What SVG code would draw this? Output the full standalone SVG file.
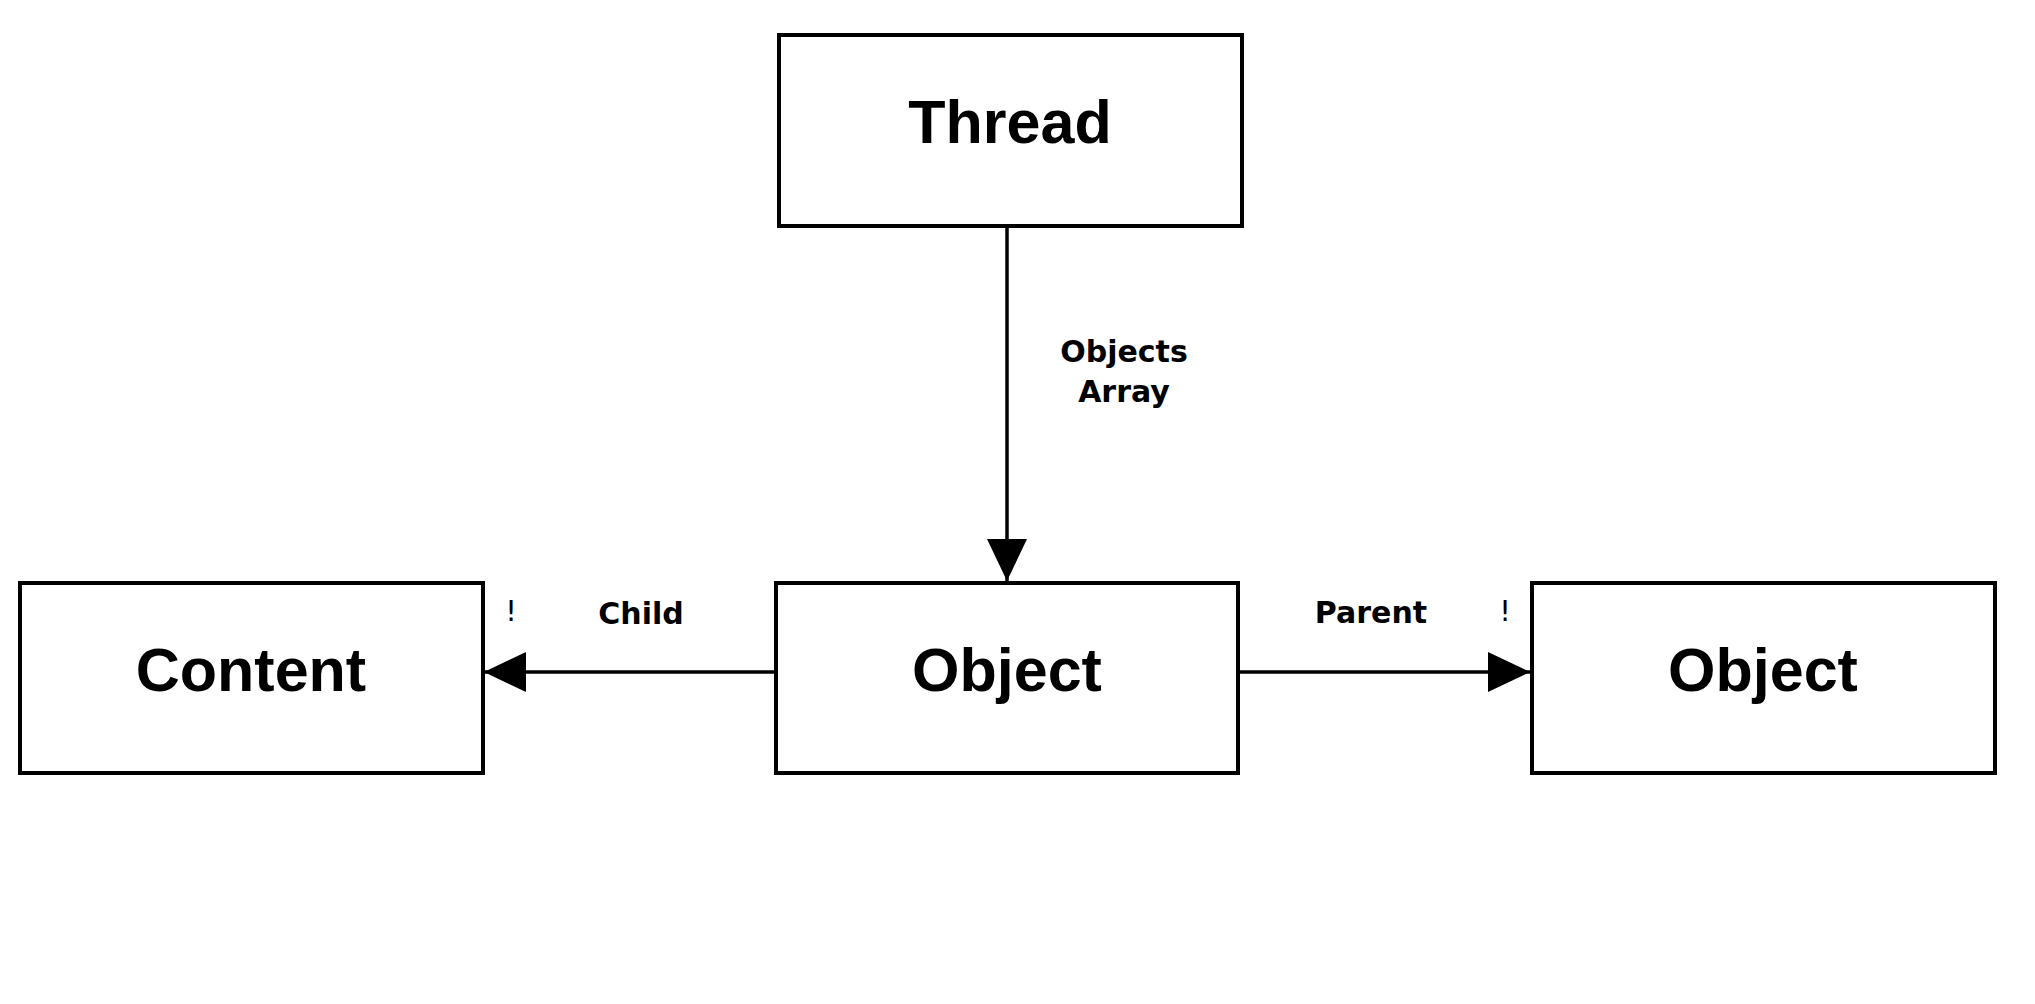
<svg xmlns="http://www.w3.org/2000/svg" width="2035" height="1004" viewBox="0 0 2035 1004">
<style>
.box{fill:#fff;stroke:#000;stroke-width:4}
.nt{font-family:"Liberation Sans",Arial,sans-serif;font-weight:bold;font-size:61px;fill:#000;text-anchor:middle}
.lb{font-family:"DejaVu Sans",Verdana,sans-serif;font-weight:bold;font-size:30px;fill:#000;text-anchor:middle}
.ex{font-family:"DejaVu Sans",Verdana,sans-serif;font-size:29px;fill:#000;text-anchor:middle}
.ln{stroke:#000;stroke-width:3.5;fill:none}
</style>
<defs>
<marker id="ah" markerWidth="42" markerHeight="40" refX="42" refY="20" orient="auto" markerUnits="userSpaceOnUse">
<path d="M0,0 L42,20 L0,40 Z" fill="#000"/>
</marker>
</defs>
<rect width="2035" height="1004" fill="#fff"/>
<g id="connectors">
<line class="ln" x1="1007" y1="227" x2="1007" y2="581" marker-end="url(#ah)"/>
<line class="ln" x1="775" y1="672" x2="484" y2="672" marker-end="url(#ah)"/>
<line class="ln" x1="1239" y1="672" x2="1530" y2="672" marker-end="url(#ah)"/>
<text class="lb" x="1124" y="362">Objects</text>
<text class="lb" x="1124" y="402">Array</text>
<text class="lb" x="641" y="624">Child</text>
<text class="ex" x="511" y="621">!</text>
<text class="lb" x="1371" y="623">Parent</text>
<text class="ex" x="1505" y="621">!</text>
</g>
<g id="thread">
<rect class="box" x="779" y="35" width="463" height="191"/>
<text class="nt" x="1010" y="143">Thread</text>
</g>
<g id="content">
<rect class="box" x="20" y="583" width="463" height="190"/>
<text class="nt" x="251" y="691">Content</text>
</g>
<g id="object-mid">
<rect class="box" x="776" y="583" width="462" height="190"/>
<text class="nt" x="1007" y="691">Object</text>
</g>
<g id="object-right">
<rect class="box" x="1532" y="583" width="463" height="190"/>
<text class="nt" x="1763" y="691">Object</text>
</g>
</svg>
